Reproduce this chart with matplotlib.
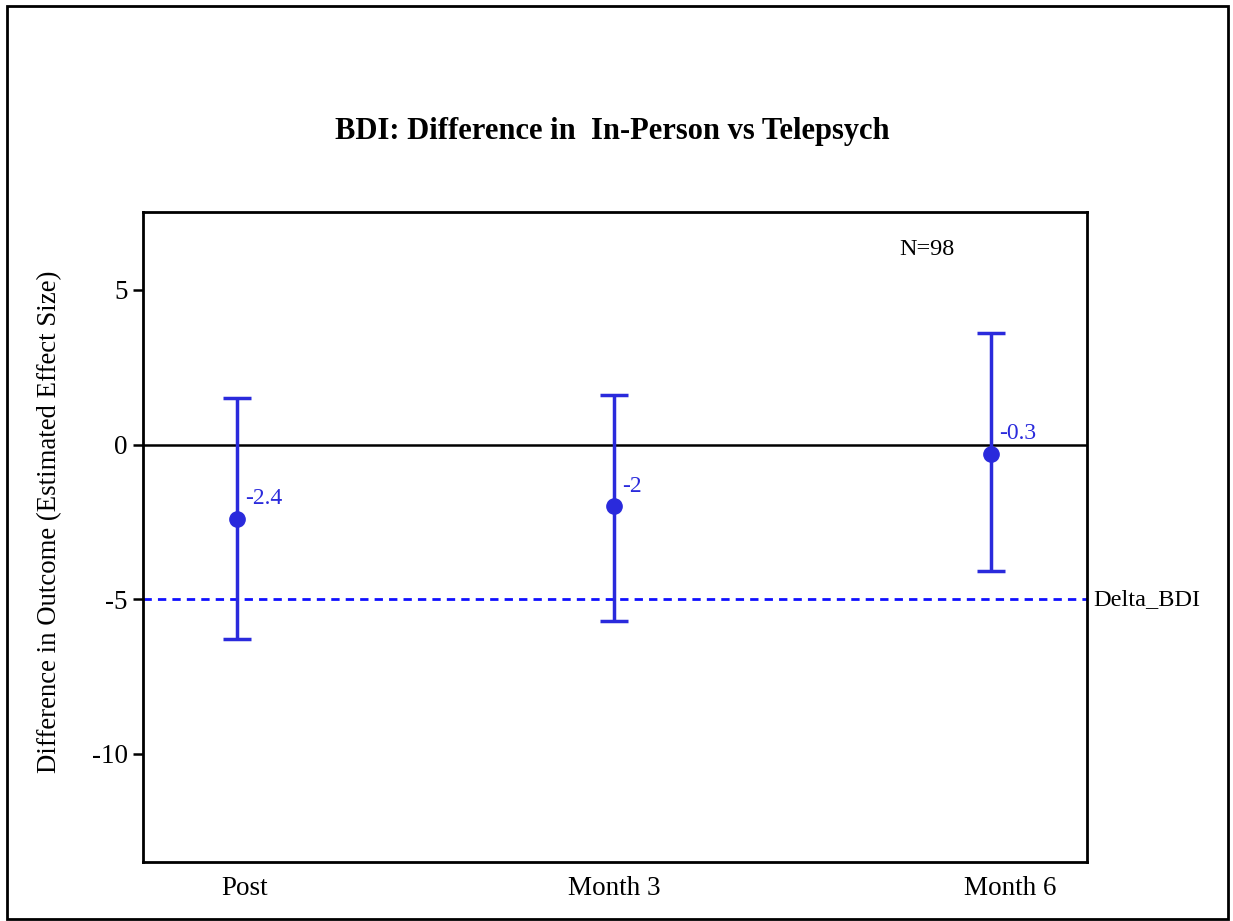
import numpy as np
import matplotlib
matplotlib.use('Agg')
import matplotlib.pyplot as plt
from matplotlib.patches import Rectangle

plt.rcParams['font.family'] = ['Liberation Serif', 'DejaVu Serif']

# data
timepoints = ['Post', 'Month 3', 'Month 6']
estimate = [-2.4, -2.0, -0.3]
ci_lower = [-6.3, -5.7, -4.1]
ci_upper = [1.5, 1.6, 3.6]
delta_bdi = -5
n_total = 98

blue = '#2a2adc'

fig = plt.figure(figsize=(12.33, 9.21), dpi=100)
fig.patches.append(Rectangle((0.006, 0.002), 0.990, 0.991, transform=fig.transFigure,
                             fill=False, edgecolor='black', linewidth=2))

ax = fig.add_axes([0.116, 0.0641, 0.7656, 0.7057])
x = np.arange(len(timepoints))
est = np.array(estimate)
yerr = [est - np.array(ci_lower), np.array(ci_upper) - est]

ax.axhline(0, color='black', linewidth=1.8, zorder=1)
ax.axhline(delta_bdi, color='#1010ff', linewidth=2, linestyle=(0, (3, 2.2)), zorder=1)
ax.errorbar(x, est, yerr=yerr, fmt='o', color=blue, markersize=11,
            elinewidth=2.5, capsize=10, capthick=2.5, zorder=3)

for xi, v in zip(x, estimate):
    lab = '%g' % v
    ax.annotate(lab, (xi, v), xytext=(6, 7), textcoords='offset points',
                color=blue, fontsize=17, ha='left', va='bottom')

ax.text(1.83, 6.3, 'N=%d' % n_total, fontsize=17.5, ha='center', va='center')
ax.text(2.27, delta_bdi, 'Delta_BDI', fontsize=17.5, ha='left', va='center',
        clip_on=False)

ax.set_xlim(-0.249, 2.254)
ax.set_ylim(-13.5, 7.52)
ax.set_yticks([5, 0, -5, -10])
ax.set_yticklabels(['5', '0', '-5', '-10'], fontsize=19.5)
ax.set_xticks([0.02, 1.0, 2.05])
ax.set_xticklabels(timepoints, fontsize=19.5)
ax.tick_params(axis='x', length=0, pad=10)
ax.tick_params(axis='y', length=7, width=1.8, pad=4)
for s in ax.spines.values():
    s.set_linewidth(2)
ax.set_ylabel('Difference in Outcome (Estimated Effect Size)', fontsize=19.3)
ax.yaxis.set_label_coords(-0.086, 0.523)

fig.text(0.497, 0.857, 'BDI: Difference in  In-Person vs Telepsych', fontsize=22,
         fontweight='bold', ha='center', va='center')

fig.savefig('out.png', dpi=100)
